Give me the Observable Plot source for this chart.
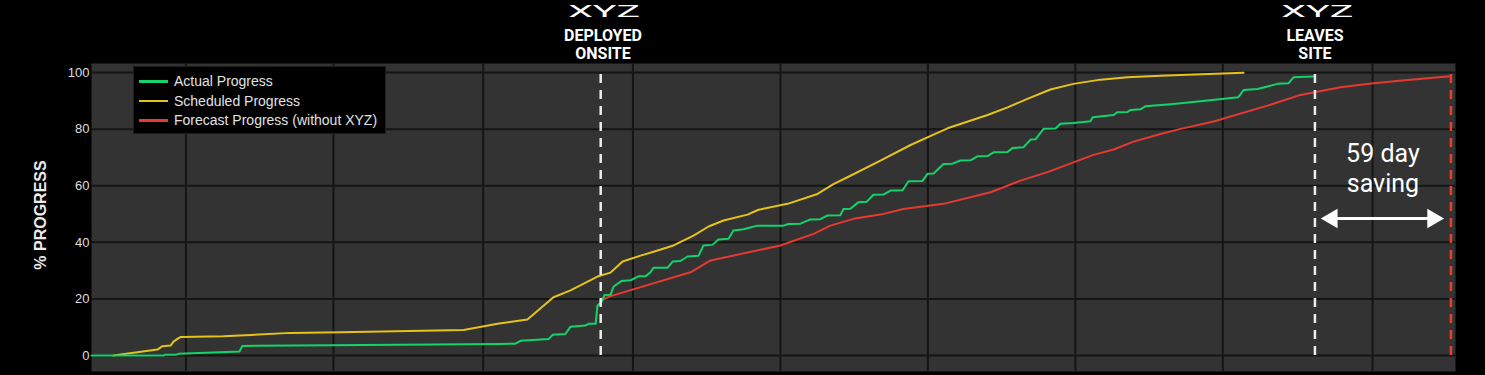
<!DOCTYPE html>
<html>
<head>
<meta charset="utf-8">
<script src="https://cdn.jsdelivr.net/npm/d3@7"></script>
<script src="https://cdn.jsdelivr.net/npm/@observablehq/plot@0.6"></script>
<style>
  html, body { margin: 0; padding: 0; background: #000; }
  #wrap { position: relative; width: 1485px; height: 375px; overflow: hidden; }
  #legend { position: absolute; left: 133px; top: 66px; width: 251px; height: 66px;
    background: #000; border: 1px solid #1e1e1e; font-family: "Liberation Sans", Arial, sans-serif;
    font-size: 14px; color: #e2e2e2; }
  .row { position: absolute; left: 0; height: 20px; width: 100%; }
  .sw { position: absolute; left: 5px; top: 9px; width: 29px; height: 2.5px; }
  .lb { position: absolute; left: 40px; top: 2px; white-space: nowrap; }
</style>
</head>
<body>
<div id="wrap"></div>
<script>
// ---- data (x in project days, y in % progress) ----
const actualDays = [0,31.3,32.1,36.9,37.8,64.2,65.5,103.7,177.5,184,186.2,198.4,200.1,205.7,207.9,214.4,215.7,218.8,219.6,221.4,222.7,225.3,226.6,230,234,237.4,240.5,242.6,243.9,250,252.2,255.6,258.7,263.5,265.6,269.5,272.1,276.5,278.6,283,289,300.3,302.5,307.7,312,316.4,319.4,325,326.4,329.4,332.9,336.4,339.4,343.7,346.8,352,354.6,360.7,362.8,365.5,369.8,373.7,377.2,381.5,384.5,388.9,391.5,397.6,399.7,404.5,407.6,409.7,413.2,418.4,420.6,426.2,433.6,434.5,443.6,445.3,449.7,451,455.3,457.5,469.6,484.4,497.8,500,506.1,510.4,514.8,519.5,521.7,530.4];
const actualValues = [0,0,0.3,0.3,0.6,1.4,3.4,3.6,4.1,4.2,5.2,5.8,7.3,7.6,10.2,10.6,11.2,11.2,17.7,19,21.4,21.5,24.4,26.3,26.6,28,28,29.4,31,31,33.2,33.4,35,35.3,38.9,39.1,41,41.3,44.2,44.6,45.9,45.9,46.5,46.6,48.1,48.2,49.5,49.6,51.8,51.9,54.2,54.3,56.8,56.9,58.3,58.4,61.6,61.7,64.2,64.3,67.7,67.8,68.9,69,70.4,70.5,71.8,71.9,73.3,73.6,76.3,76.4,80.1,80.2,81.9,82.2,82.8,84.2,85,86,86.1,86.8,87,88.1,88.9,90.1,91.3,93.8,94.2,95.1,96,96.2,98.3,98.6];

const scheduledDays = [9.5,28.6,30.8,34.3,35.6,37.3,38.6,57.3,86.4,108.1,161.5,176.2,189.2,200.5,207.9,219.6,225.3,230.5,238.3,245.7,252.6,261.3,267.8,274.3,284.7,289.5,302.1,315.1,322,328.1,342.4,355.5,362.8,371.5,388.9,397.6,406.2,416.2,426.2,437.9,449.7,464,500];
const scheduledValues = [0,2.1,3.3,3.5,4.9,5.9,6.5,6.8,8.0,8.2,9.0,11.2,12.7,20.6,23.0,27.9,29.3,33.2,35.3,37.1,38.9,42.4,45.6,47.7,49.8,51.5,53.6,57.1,60.6,63,68.9,74.4,77.1,80.3,85.0,87.7,90.7,94,96,97.5,98.3,98.9,99.9];

const forecastDays = [220.9,225.3,260,268.7,299,313.4,320.7,330.7,342.4,352.4,369.8,390.2,403.2,414.9,434.9,443.6,452.3,464,472.7,487,510.4,524.7,542.1,556.4,571.2,589.8];
const forecastValues = [19.4,21,29.4,33.6,38.9,43,45.9,48.3,49.8,51.8,53.6,57.7,61.8,64.8,70.9,72.8,75.6,78.3,80.1,82.7,88.3,92.1,94.8,96.2,97.4,98.7];

const seriesNames = ["Actual Progress", "Scheduled Progress", "Forecast Progress (without XYZ)"];
const seriesColors = ["#12d46a", "#e6c21c", "#e53a30"];

const yTicks = [0, 20, 40, 60, 80, 100];
const xGridDays = [41, 105, 170, 235, 299, 363, 427, 491, 556];

const deployDay = 221;      // XYZ deployed onsite
const leaveDay = 531;       // XYZ leaves site
const forecastEndDay = 590; // forecast completion without XYZ
const savingLabel = "59 day\nsaving";
const arrowLevel = 48.4;

// ---- build tables ----
const actual = actualDays.map((d, i) => ({day: d, value: actualValues[i]}));
const scheduled = scheduledDays.map((d, i) => ({day: d, value: scheduledValues[i]}));
const forecast = forecastDays.map((d, i) => ({day: d, value: forecastValues[i]}));

const chart = Plot.plot({
  width: 1485,
  height: 375,
  marginLeft: 91,
  marginRight: 30,
  marginTop: 63,
  marginBottom: 4,
  style: {background: "#000", overflow: "visible"},
  x: {domain: [0, 592], axis: null},
  y: {domain: [-5.65, 103.2], axis: null},
  marks: [
    Plot.frame({fill: "#333333", stroke: null}),
    Plot.ruleY(yTicks, {stroke: "#151515", strokeWidth: 2}),
    Plot.ruleX(xGridDays, {stroke: "#151515", strokeWidth: 2}),
    Plot.axisY({ticks: yTicks, tickSize: 0, tickPadding: 2, fontSize: 13, label: null,
      fill: "#dedede", fontFamily: "Liberation Sans, Arial, sans-serif"}),
    Plot.text(["% PROGRESS"], {frameAnchor: "left", textAnchor: "middle", dx: -51, dy: -2.5, rotate: -90,
      fontSize: 16, fontWeight: "bold", fill: "#ececec",
      fontFamily: "Liberation Sans, Arial, sans-serif"}),
    Plot.line(scheduled, {x: "day", y: "value", stroke: seriesColors[1], strokeWidth: 2}),
    Plot.line(forecast, {x: "day", y: "value", stroke: seriesColors[2], strokeWidth: 2}),
    Plot.line(actual, {x: "day", y: "value", stroke: seriesColors[0], strokeWidth: 2}),
    Plot.ruleX([deployDay, leaveDay], {y1: 0, y2: 100, stroke: "#ececec", strokeWidth: 2.5, strokeDasharray: "9,7"}),
    Plot.ruleX([forecastEndDay], {y1: 0, y2: 100, stroke: "#ee3a30", strokeWidth: 2.5, strokeDasharray: "9,7"}),
    Plot.ruleY([arrowLevel], {x1: leaveDay, x2: forecastEndDay, stroke: "#fff", strokeWidth: 3, insetLeft: 12, insetRight: 12}),
    Plot.dot([leaveDay], {x: d => d, y: arrowLevel, symbol: "triangle", r: 7.2, rotate: -90, dx: 17, fill: "#fff", stroke: null}),
    Plot.dot([forecastEndDay], {x: d => d, y: arrowLevel, symbol: "triangle", r: 7.2, rotate: 90, dx: -18, fill: "#fff", stroke: null}),
    Plot.text([savingLabel], {x: (leaveDay + forecastEndDay) / 2, y: 57.7, lineAnchor: "bottom",
      lineHeight: 1.2, fontSize: 25, fill: "#fff", fontFamily: "Roboto, sans-serif"}),
    Plot.text(["DEPLOYED\nONSITE"], {x: deployDay + 1, frameAnchor: "top", dy: -4.7, lineAnchor: "bottom",
      lineHeight: 1.1, fontSize: 16, fontWeight: "bold", fill: "#fff", fontFamily: "Roboto, sans-serif"}),
    Plot.text(["LEAVES\nSITE"], {x: leaveDay, frameAnchor: "top", dy: -4.7, lineAnchor: "bottom",
      lineHeight: 1.1, fontSize: 16, fontWeight: "bold", fill: "#fff", fontFamily: "Roboto, sans-serif"}),
    Plot.text(["XYZ", "XYZ"], {x: (d, i) => i ? leaveDay + 1 : deployDay + 1.5, frameAnchor: "top", dy: -46.3,
      lineAnchor: "bottom", fontSize: 17, fontWeight: 400, fill: "#fff", fontFamily: "Roboto, sans-serif"})
  ]
});

d3.select(chart).selectAll("text").filter(function() { return this.textContent === "XYZ"; })
  .attr("textLength", 72).attr("lengthAdjust", "spacingAndGlyphs");

const wrap = document.getElementById("wrap");
wrap.appendChild(chart);

// legend (HTML, drawn over the plot area)
const legend = d3.select(wrap).append("div").attr("id", "legend");
seriesNames.forEach((name, i) => {
  const row = legend.append("div").attr("class", "row").style("top", (4 + i * 19.5) + "px");
  row.append("div").attr("class", "sw").style("background", seriesColors[i]);
  row.append("div").attr("class", "lb").text(name);
});
</script>
</body>
</html>
